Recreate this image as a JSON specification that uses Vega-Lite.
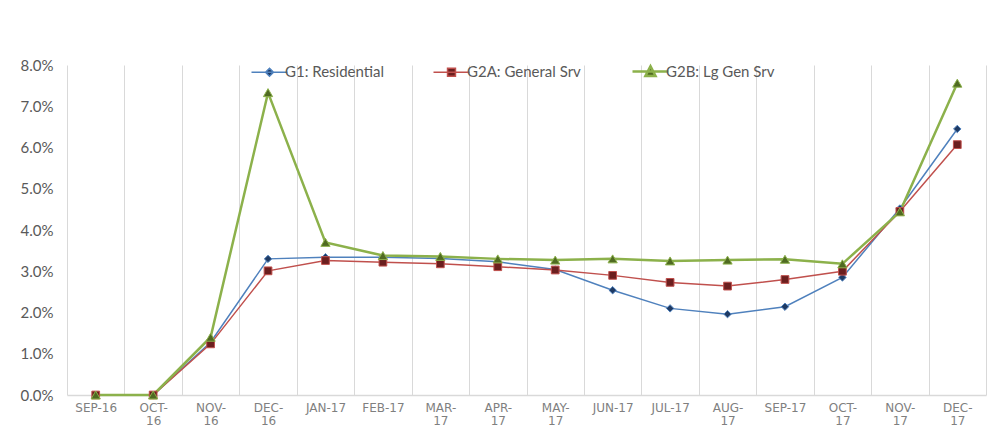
{
  "$schema": "https://vega.github.io/schema/vega-lite/v6.json",
  "width": 919,
  "height": 330,
  "autosize": "none",
  "padding": {"left": 67, "top": 65, "right": 7, "bottom": 44},
  "background": "white",
  "config": {
    "view": {"stroke": null},
    "font": "Lato"
  },
  "data": {
    "values": [
      {"month": "SEP-16", "series": "G1: Residential", "value": 0},
      {"month": "OCT-16", "series": "G1: Residential", "value": 0},
      {"month": "NOV-16", "series": "G1: Residential", "value": 0.0128},
      {"month": "DEC-16", "series": "G1: Residential", "value": 0.0330},
      {"month": "JAN-17", "series": "G1: Residential", "value": 0.0334},
      {"month": "FEB-17", "series": "G1: Residential", "value": 0.0334},
      {"month": "MAR-17", "series": "G1: Residential", "value": 0.0331},
      {"month": "APR-17", "series": "G1: Residential", "value": 0.0323},
      {"month": "MAY-17", "series": "G1: Residential", "value": 0.0304},
      {"month": "JUN-17", "series": "G1: Residential", "value": 0.0254},
      {"month": "JUL-17", "series": "G1: Residential", "value": 0.0210},
      {"month": "AUG-17", "series": "G1: Residential", "value": 0.0196},
      {"month": "SEP-17", "series": "G1: Residential", "value": 0.0214},
      {"month": "OCT-17", "series": "G1: Residential", "value": 0.0285},
      {"month": "NOV-17", "series": "G1: Residential", "value": 0.0452},
      {"month": "DEC-17", "series": "G1: Residential", "value": 0.0645},
      {"month": "SEP-16", "series": "G2A: General Srv", "value": 0},
      {"month": "OCT-16", "series": "G2A: General Srv", "value": 0},
      {"month": "NOV-16", "series": "G2A: General Srv", "value": 0.0124},
      {"month": "DEC-16", "series": "G2A: General Srv", "value": 0.0301},
      {"month": "JAN-17", "series": "G2A: General Srv", "value": 0.0326},
      {"month": "FEB-17", "series": "G2A: General Srv", "value": 0.0322},
      {"month": "MAR-17", "series": "G2A: General Srv", "value": 0.0318},
      {"month": "APR-17", "series": "G2A: General Srv", "value": 0.0311},
      {"month": "MAY-17", "series": "G2A: General Srv", "value": 0.0303},
      {"month": "JUN-17", "series": "G2A: General Srv", "value": 0.0290},
      {"month": "JUL-17", "series": "G2A: General Srv", "value": 0.0273},
      {"month": "AUG-17", "series": "G2A: General Srv", "value": 0.0264},
      {"month": "SEP-17", "series": "G2A: General Srv", "value": 0.0280},
      {"month": "OCT-17", "series": "G2A: General Srv", "value": 0.0300},
      {"month": "NOV-17", "series": "G2A: General Srv", "value": 0.0445},
      {"month": "DEC-17", "series": "G2A: General Srv", "value": 0.0607},
      {"month": "SEP-16", "series": "G2B: Lg Gen Srv", "value": 0},
      {"month": "OCT-16", "series": "G2B: Lg Gen Srv", "value": 0},
      {"month": "NOV-16", "series": "G2B: Lg Gen Srv", "value": 0.0140},
      {"month": "DEC-16", "series": "G2B: Lg Gen Srv", "value": 0.0733},
      {"month": "JAN-17", "series": "G2B: Lg Gen Srv", "value": 0.0370},
      {"month": "FEB-17", "series": "G2B: Lg Gen Srv", "value": 0.0338},
      {"month": "MAR-17", "series": "G2B: Lg Gen Srv", "value": 0.0336},
      {"month": "APR-17", "series": "G2B: Lg Gen Srv", "value": 0.0330},
      {"month": "MAY-17", "series": "G2B: Lg Gen Srv", "value": 0.0327},
      {"month": "JUN-17", "series": "G2B: Lg Gen Srv", "value": 0.0330},
      {"month": "JUL-17", "series": "G2B: Lg Gen Srv", "value": 0.0325},
      {"month": "AUG-17", "series": "G2B: Lg Gen Srv", "value": 0.0327},
      {"month": "SEP-17", "series": "G2B: Lg Gen Srv", "value": 0.0329},
      {"month": "OCT-17", "series": "G2B: Lg Gen Srv", "value": 0.0318},
      {"month": "NOV-17", "series": "G2B: Lg Gen Srv", "value": 0.0444},
      {"month": "DEC-17", "series": "G2B: Lg Gen Srv", "value": 0.0756}
    ]
  },
  "encoding": {
    "x": {
      "field": "month",
      "type": "ordinal",
      "bandPosition": 0.5,
      "sort": ["SEP-16","OCT-16","NOV-16","DEC-16","JAN-17","FEB-17","MAR-17","APR-17","MAY-17","JUN-17","JUL-17","AUG-17","SEP-17","OCT-17","NOV-17","DEC-17"],
      "scale": {"type": "band", "paddingInner": 0, "paddingOuter": 0},
      "axis": {
        "title": null,
        "labelAngle": 0,
        "grid": true,
        "gridColor": "#d9d9d9",
        "gridWidth": 1,
        "tickBand": "extent",
        "ticks": false,
        "domainColor": "#d9d9d9",
        "domainWidth": 1.5,
        "labelFont": "DejaVu Sans",
        "labelFontSize": 12,
        "labelColor": "#7f7f7f",
        "labelPadding": 7,
        "labelLineHeight": 13,
        "labelExpr": "!isValid(datum.value) ? '' : indexof(['SEP-16','JAN-17','FEB-17','JUN-17','JUL-17','SEP-17'], datum.value) >= 0 ? datum.value : [split(datum.value, '-')[0] + '-', split(datum.value, '-')[1]]"
      }
    },
    "y": {
      "field": "value",
      "type": "quantitative",
      "scale": {"domain": [0, 0.08], "nice": false},
      "axis": {
        "title": null,
        "format": ".1%",
        "values": [0, 0.01, 0.02, 0.03, 0.04, 0.05, 0.06, 0.07, 0.08],
        "grid": false,
        "domain": false,
        "ticks": false,
        "labelFont": "Lato",
        "labelFontSize": 15,
        "labelColor": "#595959",
        "labelPadding": 14
      }
    }
  },
  "layer": [
    {
      "mark": {"type": "line"},
      "encoding": {
        "color": {
          "field": "series",
          "type": "nominal",
          "scale": {
            "domain": ["G1: Residential", "G2A: General Srv", "G2B: Lg Gen Srv"],
            "range": ["#4f81bd", "#c0504d", "#8cb14b"]
          },
          "legend": {
            "title": null,
            "orient": "none",
            "legendX": 195,
            "legendY": -1,
            "direction": "horizontal",
            "columns": 3,
            "columnPadding": 46,
            "symbolSize": 1296,
            "symbolStrokeWidth": 1.5,
            "labelOffset": 8,
            "labelFont": "Lato",
            "labelFontSize": 15,
            "labelColor": "#595959",
            "encode": {
              "symbols": {
                "update": {
                  "shape": {"signal": "datum.value == 'G1: Residential' ? 'M-1,0L1,0M-0.22,0L0,-0.22L0.22,0L0,0.22Z' : datum.value == 'G2A: General Srv' ? 'M-1,0L1,0M-0.22,-0.22L0.22,-0.22L0.22,0.22L-0.22,0.22Z' : 'M-1,0L1,0M-0.28,0.24L0,-0.3L0.28,0.24Z'"},
                  "size": {"value": 1296},
                  "fill": {"signal": "datum.value == 'G1: Residential' ? '#1f3a63' : datum.value == 'G2A: General Srv' ? '#6b1f1f' : '#4f6a22'"},
                  "stroke": {"signal": "datum.value == 'G1: Residential' ? '#4f81bd' : datum.value == 'G2A: General Srv' ? '#c0504d' : '#8cb14b'"},
                  "strokeWidth": {"signal": "datum.value == 'G2B: Lg Gen Srv' ? 2.5 : 1.5"},
                  "strokeOpacity": {"value": 1},
                  "fillOpacity": {"value": 1},
                  "opacity": {"value": 1}
                }
              }
            }
          }
        },
        "strokeWidth": {
          "condition": {"test": "datum.series == 'G2B: Lg Gen Srv'", "value": 2.5},
          "value": 1.5
        }
      }
    },
    {
      "transform": [{"filter": {"field": "series", "equal": "G1: Residential"}}],
      "mark": {"type": "point", "shape": "diamond", "filled": true, "opacity": 1, "size": 55, "fill": "#1f3a63", "stroke": "#4f81bd", "strokeWidth": 1}
    },
    {
      "transform": [{"filter": {"field": "series", "equal": "G2A: General Srv"}}],
      "mark": {"type": "point", "shape": "square", "filled": true, "opacity": 1, "size": 60, "fill": "#6b1f1f", "stroke": "#c0504d", "strokeWidth": 1}
    },
    {
      "transform": [{"filter": {"field": "series", "equal": "G2B: Lg Gen Srv"}}],
      "mark": {"type": "point", "shape": "triangle-up", "filled": true, "opacity": 1, "size": 85, "fill": "#4f6a22", "stroke": "#8cb14b", "strokeWidth": 1}
    }
  ]
}
